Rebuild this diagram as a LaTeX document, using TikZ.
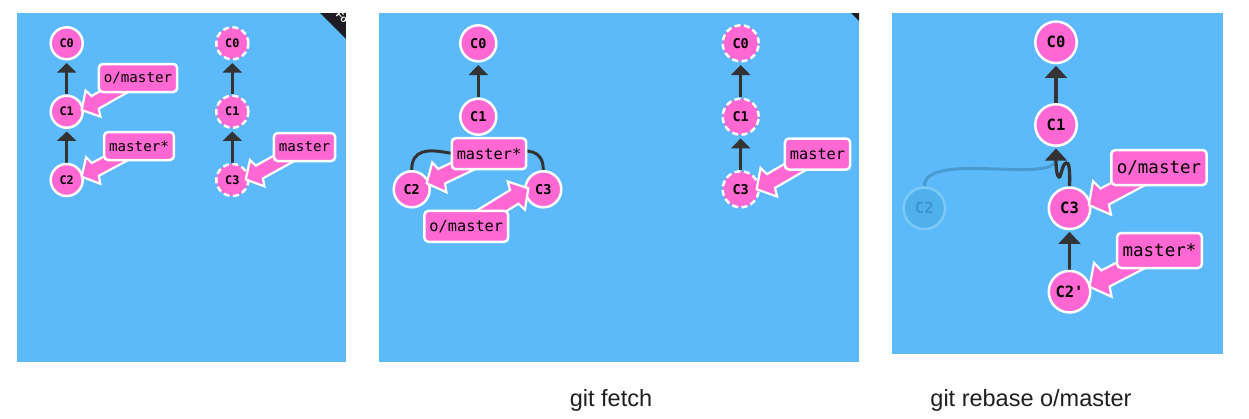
\documentclass[tikz,border=0pt]{standalone}
\usepackage{fontspec}
\setmonofont{DejaVu Sans Mono}
\setsansfont{Liberation Sans}
\usetikzlibrary{arrows.meta,calc}
\definecolor{bgblue}{RGB}{92,186,250}
\definecolor{pinkc}{RGB}{255,104,210}
\definecolor{edgec}{RGB}{51,51,51}
\definecolor{ghostfill}{RGB}{80,176,236}
\definecolor{ghostdraw}{RGB}{124,200,246}
\definecolor{ghosttext}{RGB}{60,148,206}
\definecolor{ghostline}{RGB}{74,154,210}
\definecolor{ribbon}{RGB}{28,28,34}
\pgfdeclarelayer{bg}\pgfdeclarelayer{edgel}\pgfdeclarelayer{commitl}\pgfdeclarelayer{ptrl}
\pgfsetlayers{bg,edgel,commitl,ptrl,main}
\tikzset{
  commit/.style={circle, fill=pinkc, draw=white, line width=2.5pt, inner sep=0pt, text=black},
  ca/.style={commit, minimum size=32pt, font=\ttfamily\bfseries\fontsize{11.8}{12}\selectfont},
  cb/.style={commit, minimum size=36pt, font=\ttfamily\bfseries\fontsize{13.5}{14}\selectfont},
  cc/.style={commit, minimum size=41.5pt, font=\ttfamily\bfseries\fontsize{15.5}{16}\selectfont},
  remote/.style={dash pattern=on 6pt off 3.5pt},
  ghost/.style={fill=ghostfill, draw=ghostdraw, text=ghosttext},
  branch/.style={rectangle, rounded corners=4pt, fill=pinkc, draw=white, line width=2.5pt, inner xsep=5pt, inner ysep=0pt, text=black},
  ba/.style={branch, minimum height=28pt, font=\ttfamily\fontsize{14.2}{14}\selectfont},
  bb/.style={branch, minimum height=31pt, font=\ttfamily\fontsize{15.3}{15}\selectfont},
  bc/.style={branch, minimum height=35pt, inner xsep=5.5pt, font=\ttfamily\fontsize{17.5}{18}\selectfont},
  ptr/.style={fill=pinkc, draw=white, line width=2.2pt, line join=miter},
  edgea/.style={draw=edgec, line width=3pt, -{Triangle[width=19pt,length=9.5pt]}, shorten >=2.5pt},
  edgeb/.style={draw=edgec, line width=3pt, -{Triangle[width=19pt,length=10pt]}, shorten >=2.5pt},
  edgecc/.style={draw=edgec, line width=3.3pt, -{Triangle[width=21.5pt,length=12pt]}, shorten >=1.5pt},
  caption/.style={font=\sffamily\fontsize{23.5}{28}\selectfont, text=black!88, anchor=base}
}
% #1 label node, #2 tip coordinate, #3 head length, #4 junction distance, #5 head half width, #6 shaft half width
\newcommand\brptr[6]{%
  \filldraw[ptr] let \p1=($(#1.center)-(#2)$), \n1={atan2(\y1,\x1)} in
    (#2)
    -- ($(#2)+(\n1:#3)+(\n1+90:#5)$)
    -- ($(#2)+(\n1:#4)+(\n1+90:#6)$)
    -- ($(#1.center)+(\n1+90:#6)$)
    -- ($(#1.center)+(\n1-90:#6)$)
    -- ($(#2)+(\n1:#4)+(\n1-90:#6)$)
    -- ($(#2)+(\n1:#3)+(\n1-90:#5)$)
    -- cycle;
}
\begin{document}
\begin{tikzpicture}[x=1pt,y=-1pt]
\useasboundingbox (0,0) rectangle (1249,418);
\begin{pgfonlayer}{bg}
  \fill[white] (0,0) rectangle (1249,418);
  \fill[bgblue] (17,13) rectangle (346,362);
  \fill[bgblue] (379,13) rectangle (859,362);
  \fill[bgblue] (892,13) rectangle (1223,354);
  \begin{scope}
    \clip (320,13) -- (346,13) -- (346,39) -- cycle;
    \fill[ribbon] (320,13) -- (346,13) -- (346,39) -- cycle;
    \node[text=white, rotate=-45, inner sep=0pt, font=\sffamily\bfseries\fontsize{10}{10}\selectfont] (fork) at (342,17) {Fo};
  \end{scope}
  \fill[ribbon] (851,13) -- (859,13) -- (859,21) -- cycle;
\end{pgfonlayer}

% ---------- panel 1 ----------
\begin{pgfonlayer}{commitl}
  \node[ca] (a0) at (66.7,43.3) {C0};
  \node[ca] (a1) at (66.7,111.7) {C1};
  \node[ca] (a2) at (66.7,180) {C2};
  \node[ca,remote] (r0) at (232.3,43.3) {C0};
  \node[ca,remote] (r1) at (232.3,111.7) {C1};
  \node[ca,remote] (r3) at (232.3,180) {C3};
\end{pgfonlayer}
\node[ba] (om1) at (138,78) {o/master};
\node[ba] (ms1) at (139,146) {master*};
\node[ba] (mr1) at (304.5,147) {master};
\coordinate (tom1) at ($(a1.center)+(15,-1.7)$);
\coordinate (tms1) at ($(a2.center)+(15,-3.3)$);
\coordinate (tmr1) at ($(r3.center)+(13.5,-0.5)$);
\begin{pgfonlayer}{edgel}
  \draw[edgea] (a1) -- (a0);
  \draw[edgea] (a2) -- (a1);
  \draw[edgea] (r1) -- (r0);
  \draw[edgea] (r3) -- (r1);
\end{pgfonlayer}
\begin{pgfonlayer}{ptrl}
  \brptr{om1}{tom1}{13pt}{15.5pt}{15pt}{7.3pt}
  \brptr{ms1}{tms1}{13pt}{15.5pt}{15pt}{7.3pt}
  \brptr{mr1}{tmr1}{13pt}{15.5pt}{15pt}{7.3pt}
\end{pgfonlayer}

% ---------- panel 2 ----------
\begin{pgfonlayer}{commitl}
  \node[cb] (b0) at (478.3,43.3) {C0};
  \node[cb] (b1) at (478.3,116.7) {C1};
  \node[cb] (b2) at (411.7,189.3) {C2};
  \node[cb] (b3) at (543.3,189.3) {C3};
  \node[cb,remote] (s0) at (740.7,43.3) {C0};
  \node[cb,remote] (s1) at (740.7,116.7) {C1};
  \node[cb,remote] (s3) at (740.7,189.3) {C3};
\end{pgfonlayer}
\node[bb] (ms2) at (489,153.7) {master*};
\node[bb] (om2) at (466.3,226.3) {o/master};
\node[bb] (mr2) at (817.5,154) {master};
\coordinate (tms2) at ($(b2.center)+(15,-6)$);
\coordinate (tom2) at ($(b3.center)+(-15,-1)$);
\coordinate (tmr2) at ($(s3.center)+(16,0)$);
\begin{pgfonlayer}{edgel}
  \draw[edgeb] (b1) -- (b0);
  \draw[edgeb] (b2.north) .. controls (411.7,128) and (478.3,172) .. (b1.south);
  \draw[edgeb] (b3.north) .. controls (543.3,128) and (478.3,172) .. (b1.south);
  \draw[edgeb] (s1) -- (s0);
  \draw[edgeb] (s3) -- (s1);
\end{pgfonlayer}
\begin{pgfonlayer}{ptrl}
  \brptr{ms2}{tms2}{14pt}{16.5pt}{16.5pt}{8pt}
  \brptr{om2}{tom2}{14pt}{16.5pt}{16.5pt}{8pt}
  \brptr{mr2}{tmr2}{14pt}{16.5pt}{16.5pt}{8pt}
\end{pgfonlayer}

% ---------- panel 3 ----------
\begin{pgfonlayer}{commitl}
  \node[cc] (c0) at (1056,42.3) {C0};
  \node[cc] (c1) at (1056,125) {C1};
  \node[cc] (c3) at (1069.5,208.3) {C3};
  \node[cc] (c2p) at (1069.5,291.7) {C2'};
  \node[cc,ghost] (g2) at (924.3,208.3) {C2};
\end{pgfonlayer}
\node[bc] (om3) at (1159,167.5) {o/master};
\node[bc] (ms3) at (1159.5,250.5) {master*};
\coordinate (tom3) at ($(c3.center)+(19.3,-3.3)$);
\coordinate (tms3) at ($(c2p.center)+(20,-5)$);
\begin{pgfonlayer}{edgel}
  \draw[ghostline, line width=3pt, shorten >=12pt] (g2.north) .. controls (924.3,150) and (1056,185) .. (c1.south);
  \draw[edgecc] (c1) -- (c0);
  \draw[edgecc] (c3.north) .. controls (1070,168) and (1069,162) .. (1066,163)
     .. controls (1062,164) and (1061,178) .. (1059,177)
     .. controls (1057,176) and (1056,170) .. (c1.south);
  \draw[edgecc] (c2p) -- (c3);
\end{pgfonlayer}
\begin{pgfonlayer}{ptrl}
  \brptr{om3}{tom3}{15pt}{18pt}{19pt}{9pt}
  \brptr{ms3}{tms3}{15pt}{18pt}{19pt}{9pt}
\end{pgfonlayer}

% ---------- captions ----------
\node[caption] (cap1) at (611,406) {git fetch};
\node[caption] (cap2) at (1031,406) {git rebase o/master};
\end{tikzpicture}
\end{document}
